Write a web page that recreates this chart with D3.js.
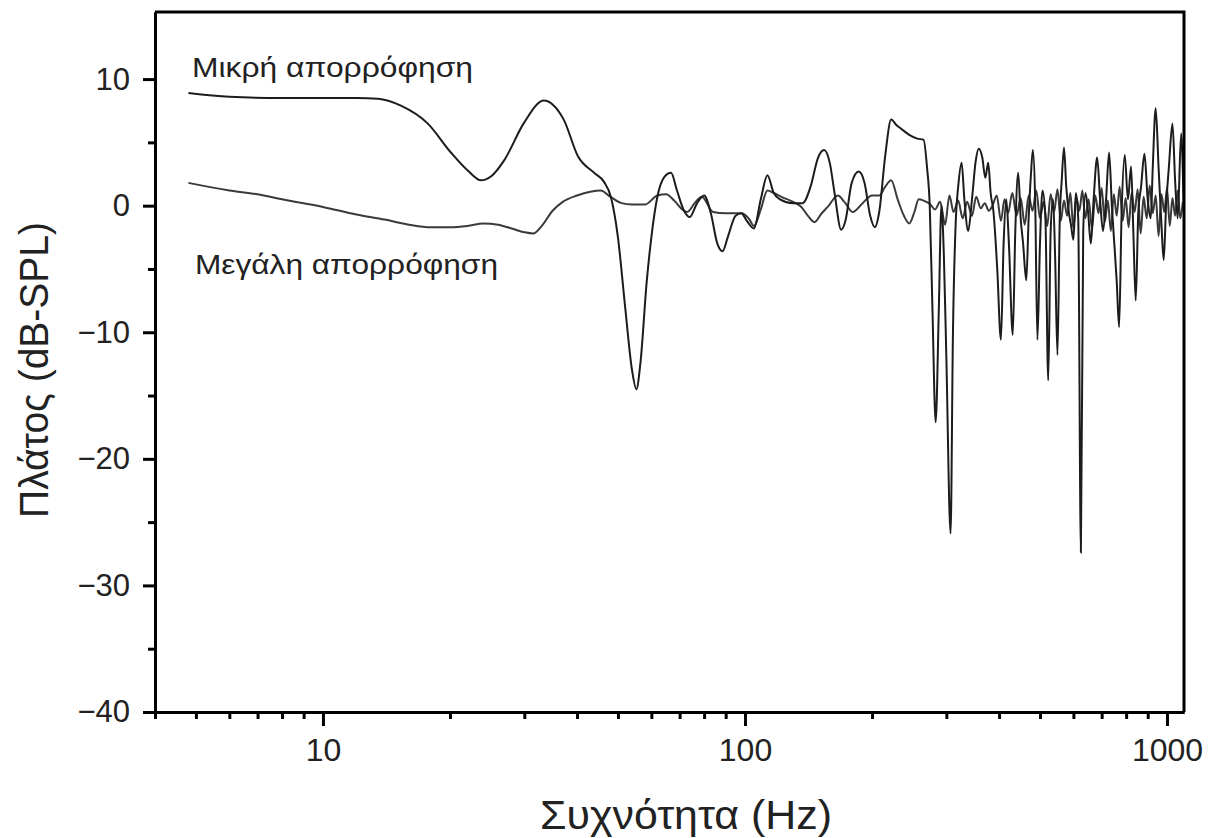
<!DOCTYPE html>
<html>
<head>
<meta charset="utf-8">
<script src="https://cdn.jsdelivr.net/npm/d3@7"></script>
<style>
    body { margin: 0; background: #fff; }
    svg { display: block; font-family: "Liberation Sans", Arial, sans-serif; }
</style>
</head>
<body>
<svg id="chart" width="1212" height="838"></svg>
<script>

//  frequency response, small absorption (Hz, dB)
const lowAbsFreq = [4.8, 6, 8, 10, 12, 13.5, 15.3, 17.7, 20.1, 22, 23.7, 25, 26.9, 29.9, 33.4, 35, 37.2, 40.2, 43.9, 46.3,
    48.1, 50, 52, 54, 55.3, 56.5, 58.5, 60, 62, 64.5, 66.8, 69, 71.7, 74, 77, 80, 83, 86, 88.5, 91,
    95, 98, 101, 105, 109, 113, 117, 121, 130, 137, 143, 149, 154, 159, 163, 169, 173, 179, 186, 192,
    198, 203, 208, 215, 222, 228, 234, 245, 256, 265, 270, 274, 278, 283, 288, 292, 296, 300, 307, 311,
    316, 320, 326, 331, 338, 345, 352, 358, 365, 371, 377, 382, 388, 396, 404, 410, 416, 422, 431, 437,
    444, 450, 456, 464, 470, 476, 481, 487, 493, 500, 507, 515, 523, 530, 537, 543, 550, 557, 563, 570,
    577, 585, 592, 600, 608, 616, 625, 633, 641, 650, 660, 670, 683, 694, 705, 717, 729, 740, 750, 760,
    770, 780, 794, 808, 822, 832, 843, 855, 868, 884, 900, 915, 925, 940, 955, 970, 982, 995, 1010, 1030,
    1045, 1060, 1080, 1095];
const lowAbsDb = [8.9, 8.6, 8.5, 8.5, 8.5, 8.45, 7.9, 6.5, 4.2, 2.8, 2.0, 2.3, 3.6, 6.5, 8.3, 8.0, 6.8, 3.9, 2.6, 1.9,
    0.7, -2.5, -8, -13, -14.5, -12.5, -6, -2.5, 0.7, 2.3, 2.6, 1.2, -0.4, -0.9, 0.2, 0.8, -0.6, -3, -3.6, -2.5,
    -0.8, -0.6, -1.2, -1.8, 0.5, 2.4, 1.0, 0.5, 0.2, 0.2, 1.5, 3.8, 4.4, 3.3, 1.0, -1.9, -1.2, 1.8, 2.7, 1.8,
    -0.8, -1.7, -0.5, 4.0, 6.8, 6.4, 6.1, 5.6, 5.3, 5.2, 3.0, 0.0, -8, -17.1, -8, 0.0, -4, -12, -25.9, -10,
    -1.0, 1.5, 3.4, 0.5, -2.0, 0.5, 3.5, 4.5, 3.8, 2.2, 3.4, 1.0, -0.5, -5, -10.6, -3, 0.5, -3, -10.2, -2,
    2.6, -1, -3, -5.9, -1, 2.5, 4.4, 0.5, -10.6, -3, 1.2, -1, -13.8, -2, 0.5, -4, -11.8, -1, 2.0, 4.6,
    1.5, -0.5, -1.5, -2.7, 1.0, -1.0, -27.4, -2, 1.0, -0.5, -3.0, 0.5, 3.8, 0.5, -2.0, 0.5, 4.2, 0.0, -3, -6,
    -9.6, -1, 4.0, 0.5, 3.1, -2, -7.5, -0.5, 1.5, 4.1, 0.5, -1.0, 3, 7.7, 3.0, -1.5, -4.3, 0, 3.0, 6.5,
    2, -1.0, 5.7, 0];

//  frequency response, large absorption (Hz, dB)
const highAbsFreq = [4.8, 6, 7, 8, 10, 12, 14, 16, 18, 20, 22, 24, 26, 28, 30, 31.5, 33, 35, 37, 40,
    43, 45.5, 48, 51, 54, 58, 62, 65, 68, 71, 73, 76, 79, 84, 90, 98, 102, 105, 109, 113,
    117, 122, 130, 136, 141, 146, 152, 157, 166, 172, 180, 190, 200, 208, 215, 222, 230, 238, 245, 252,
    258, 265, 275, 282, 290, 298, 305, 312, 320, 328, 336, 345, 353, 362, 370, 378, 386, 395, 404, 412,
    420, 430, 440, 450, 460, 470, 480, 490, 500, 510, 520, 530, 540, 550, 560, 570, 580, 590, 600, 610,
    620, 630, 640, 652, 664, 676, 688, 700, 712, 724, 736, 748, 760, 772, 785, 798, 811, 824, 838, 852,
    866, 880, 895, 910, 925, 940, 955, 970, 985, 1000, 1015, 1030, 1045, 1060, 1075, 1090];
const highAbsDb = [1.8, 1.2, 0.9, 0.5, -0.1, -0.7, -1.1, -1.5, -1.7, -1.7, -1.6, -1.4, -1.5, -1.8, -2.1, -2.2, -1.6, -0.4, 0.3, 0.8,
    1.1, 1.2, 0.7, 0.2, 0.1, 0.1, 0.8, 0.9, 0.4, -0.3, -0.5, 0.2, 0.7, -0.5, -0.6, -0.6, -1.0, -1.6, -0.3, 1.2,
    1.0, 0.7, 0.3, -0.1, -0.8, -1.3, -0.6, -0.1, 0.8, 0.3, -0.5, 0.2, 0.8, 0.8, 1.5, 2.0, 0.5, -0.8, -1.4, -0.5,
    0.5, 0.4, 0.1, -0.3, 0.3, -1.5, 0.8, -0.5, 0.4, -1.0, 0.3, -0.8, 0.7, -0.2, 0.2, -0.4, 0.0, 0.8, -1.2, 0.5,
    -0.6, 1.0, -0.8, 0.6, -1.5, 0.8, -0.4, 1.2, -1.0, 0.3, -1.6, 0.9, -0.5, 1.3, -1.2, 0.4, -0.8, 1.0, -1.8, 0.6,
    -0.4, 1.2, -1.0, 0.5, -1.8, 0.8, -0.6, 1.4, -1.3, 0.4, -2.0, 0.9, -0.8, 1.5, -1.2, 0.6, -1.7, 1.0, -0.5, 1.3,
    -2.2, 0.7, -1.0, 1.6, -0.6, 0.8, -2.4, 0.9, -0.5, 1.4, -1.6, 0.6, -0.8, 1.2, -1.0, 0.3];

const yMajorTicks = [-40, -30, -20, -10, 0, 10];
const yMinorTicks = [-35, -25, -15, -5, 5];
const xMajorTicks = [10, 100, 1000];
const xMinorTicks = [4, 5, 6, 7, 8, 9, 20, 30, 40, 50, 60, 70, 80, 90, 200, 300, 400, 500, 600, 700, 800, 900];

const labelLow = "Μικρή απορρόφηση";
const labelHigh = "Μεγάλη απορρόφηση";
const xTitle = "Συχνότητα (Hz)";
const yTitle = "Πλάτος (dB-SPL)";

const chart = {

    svg: null,
    x: null,
    y: null,

    left: 155,
    right: 1184,
    top: 12,
    bottom: 712,

    initialize: function () {
        this.svg = d3.select('#chart');
        this.svg.append('rect').attr('width', 1212).attr('height', 838).attr('fill', "white");

        this.x = d3.scaleLog().domain([4, 1097]).range([this.left, this.right]);
        this.y = d3.scaleLinear().domain([-40, 15.3]).range([this.bottom, this.top]);

        this.drawLines();
        this.drawAxes();
        this.drawTexts();
    },

    drawLines: function () {
        const line = d3.line()
            .x(d => this.x(d[0]))
            .y(d => this.y(d[1]))
            .curve(d3.curveMonotoneX);

        const highData = highAbsFreq.map((f, i) => [f, highAbsDb[i]]);
        const lowData = lowAbsFreq.map((f, i) => [f, lowAbsDb[i]]);

        this.svg.append('path').datum(highData).attr('d', line)
            .attr('fill', "none").attr('stroke', "#3a3a3a").attr('stroke-width', 2);
        this.svg.append('path').datum(lowData).attr('d', line)
            .attr('fill', "none").attr('stroke', "#1c1c1c").attr('stroke-width', 2);
    },

    styleAxis: function (g, fontSize) {
        g.select('.domain').attr('stroke', "black").attr('stroke-width', 3);
        g.selectAll('.tick line').attr('stroke', "black").attr('stroke-width', 3);
        g.selectAll('.tick text')
            .attr('fill', "#222")
            .style('font-size', fontSize + "px")
            .style('font-family', '"Liberation Sans", Arial, sans-serif');
    },

    drawAxes: function () {
        //  y axis, major then minor ticks
        const yMajor = this.svg.append('g').attr('transform', `translate(${this.left},0)`)
            .call(d3.axisLeft(this.y).tickValues(yMajorTicks).tickSize(12).tickSizeOuter(0)
                .tickPadding(13).tickFormat(d3.format("d")));
        this.styleAxis(yMajor, 31);
        const yMinor = this.svg.append('g').attr('transform', `translate(${this.left},0)`)
            .call(d3.axisLeft(this.y).tickValues(yMinorTicks).tickSize(7).tickSizeOuter(0).tickFormat(""));
        this.styleAxis(yMinor, 31);

        //  x axis
        const xMajor = this.svg.append('g').attr('transform', `translate(0,${this.bottom})`)
            .call(d3.axisBottom(this.x).tickValues(xMajorTicks).tickSize(14).tickSizeOuter(0)
                .tickPadding(12).tickFormat(d3.format("d")));
        this.styleAxis(xMajor, 32);
        const xMinor = this.svg.append('g').attr('transform', `translate(0,${this.bottom})`)
            .call(d3.axisBottom(this.x).tickValues(xMinorTicks).tickSize(7).tickSizeOuter(0).tickFormat(""));
        this.styleAxis(xMinor, 32);

        //  the frame: top and right edges
        this.svg.append('path')
            .attr('d', `M${this.left},${this.top}H${this.right}V${this.bottom}`)
            .attr('fill', "none").attr('stroke', "black").attr('stroke-width', 3);
    },

    drawTexts: function () {
        this.svg.append('text').attr('x', 192).attr('y', 77)
            .attr('textLength', 281).attr('lengthAdjust', "spacingAndGlyphs")
            .style('font-size', "27px").attr('fill', "#222")
            .text(labelLow);
        this.svg.append('text').attr('x', 195).attr('y', 274)
            .attr('textLength', 303).attr('lengthAdjust', "spacingAndGlyphs")
            .style('font-size', "27px").attr('fill', "#222")
            .text(labelHigh);

        this.svg.append('text').attr('x', 686).attr('y', 829)
            .attr('text-anchor', "middle")
            .attr('textLength', 292).attr('lengthAdjust', "spacingAndGlyphs")
            .style('font-size', "40px").attr('fill', "#222")
            .text(xTitle);

        this.svg.append('text')
            .attr('transform', "translate(48,370) rotate(-90)")
            .attr('text-anchor', "middle")
            .attr('textLength', 296).attr('lengthAdjust', "spacingAndGlyphs")
            .style('font-size', "40px").attr('fill', "#222")
            .text(yTitle);
    },
}

chart.initialize();
</script>
</body>
</html>
